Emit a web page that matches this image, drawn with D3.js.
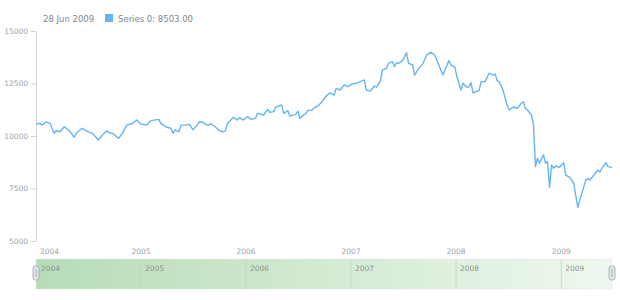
<!DOCTYPE html>
<html>
  <head>
    <script type="text/javascript" src="https://d3js.org/d3.v7.min.js"></script>
    <style>
      body { margin: 0; background: #fff; }
      text { font-family: "DejaVu Sans", Verdana, sans-serif; }
    </style>
  </head>
  <body>
  </body>
  <script>

// weekly closes, week number counted from 4 Jan 2004
var startDate = new Date(2004, 0, 4);
var endDate = new Date(2009, 5, 28);
var weeks = [0, 2, 3, 5, 7, 9, 10, 12, 14, 15, 17, 19, 20, 23, 24, 27, 28, 31, 33, 35, 37, 38, 41, 43, 45,
  47, 48, 50, 52, 55, 57, 61, 62, 65, 67, 68, 69, 71, 72, 75, 76, 78, 80, 81, 83, 85, 87, 89, 91, 93,
  94, 95, 98, 100, 101, 103, 105, 107, 109, 110, 113, 115, 116, 118, 119, 122, 123, 125, 126, 129, 130,
  131, 134, 135, 137, 139, 140, 142, 144, 146, 148, 149, 151, 153, 155, 157, 159, 161, 163, 164, 166,
  168, 169, 171, 172, 174, 175, 177, 178, 179, 180, 182, 184, 185, 187, 188, 190, 192, 194, 196, 198,
  200, 202, 205, 206, 208, 209, 211, 212, 214, 215, 216, 217, 220, 221, 223, 225, 227, 228, 229, 230,
  232, 234, 235, 237, 239, 241, 242, 243, 244, 246, 247, 248, 249, 250, 252, 253, 254, 255, 256, 257,
  258, 260, 262, 263, 265, 267, 269, 271, 273, 274, 275, 277, 279, 280, 283, 284, 286];
var values = [10570, 10600, 10520, 10670, 10600, 10130, 10250, 10200, 10440, 10370, 10200, 9940, 10130,
  10370, 10290, 10160, 10130, 9810, 10050, 10240, 10130, 10130, 9890, 10130, 10520,
  10570, 10600, 10760, 10570, 10520, 10730, 10790, 10600, 10410, 10370, 10130, 10290, 10200, 10520,
  10520, 10570, 10290, 10520, 10680, 10640, 10520, 10570, 10440, 10250, 10200,
  10230, 10580, 10890, 10760, 10870, 10760, 10920, 10790, 10840, 11080, 11000, 11270, 11130, 11160,
  11370, 11480, 11080, 11210, 10950, 11030, 11190,
  10840, 11080, 11210, 11240, 11400, 11430, 11630, 11900, 12060, 11950, 12270, 12190, 12430, 12350,
  12480, 12510, 12590, 12670, 12190, 12140,
  12380, 12320, 12630, 13140, 13220, 13460, 13540, 13300, 13490, 13460, 13590, 13970, 13460, 13380,
  12900, 13220, 13430, 13860, 13990, 13860,
  13380, 12900, 13590, 13380, 13270, 12830, 12190, 12510, 12320, 12350, 12540, 12060, 12160, 12590,
  12590, 12990, 12900, 12950, 12630, 12590,
  12150, 11440, 11240, 11380, 11320, 11560, 11630, 11320, 11240, 11000, 10560, 8540, 8940, 8700,
  9100, 8700, 8780, 7560, 8620, 8460,
  8570, 8510, 8730, 8140, 8030, 7750, 6600, 7270, 7900, 7980, 7900, 8140, 8380, 8300, 8730, 8540, 8503];
var yTicks = [5000, 7500, 10000, 12500, 15000];
var years = [2004, 2005, 2006, 2007, 2008, 2009];
var seriesName = "Series 0";

var data = weeks.map(function(w, i){
  return {date: d3.timeWeek.offset(startDate, w), value: values[i]};
});
var last = data[data.length - 1];

var svg = d3.select("body").append("svg").attr("width", 620).attr("height", 300);

var x = d3.scaleTime().domain([startDate, endDate]).range([36, 612]);
var y = d3.scaleLinear().domain([5000, 15000]).range([241, 31]);
var yearDates = years.map(function(yr){ return new Date(yr, 0, 1); });

// legend
var fmt = d3.timeFormat("%d %b %Y");
svg.append("text").attr("x", 43).attr("y", 21.5).attr("font-size", 8.5).attr("fill", "#7c868e")
  .text(fmt(last.date));
svg.append("rect").attr("x", 105).attr("y", 14).attr("width", 8).attr("height", 8).attr("fill", "#64b5f6");
svg.append("text").attr("x", 118).attr("y", 21.5).attr("font-size", 8.5).attr("fill", "#7c868e")
  .text(seriesName + ": " + d3.format(".2f")(last.value));

// y axis
var yAxis = svg.append("g").attr("transform", "translate(36,0)")
  .call(d3.axisLeft(y).tickValues(yTicks).tickSize(5).tickPadding(3).tickSizeOuter(0).tickFormat(d3.format("d")));
yAxis.select(".domain").attr("stroke", "#cfd4d8");
yAxis.selectAll(".tick line").attr("stroke", "#cfd4d8");
yAxis.selectAll(".tick text").attr("fill", "#9aa3aa").attr("font-size", 7.5)
  .style("font-family", "'DejaVu Sans', Verdana, sans-serif");

// x axis labels
var xAxis = svg.append("g").attr("transform", "translate(0,241)")
  .call(d3.axisBottom(x).tickValues(yearDates).tickSize(0).tickPadding(8).tickFormat(d3.timeFormat("%Y")));
xAxis.select(".domain").remove();
xAxis.selectAll(".tick text").attr("fill", "#9aa3aa").attr("font-size", 7.5)
  .style("font-family", "'DejaVu Sans', Verdana, sans-serif");
xAxis.selectAll(".tick").filter(function(d, i){ return i === 0; })
  .attr("transform", "translate(40,0)").select("text").attr("text-anchor", "start");

// line
svg.append("path").datum(data)
  .attr("fill", "none").attr("stroke", "#64b5f6").attr("stroke-width", 1.4).attr("stroke-linejoin", "round")
  .attr("d", d3.line().x(function(d){ return x(d.date); }).y(function(d){ return y(d.value); }));

// scroller
var sTop = 259, sH = 30;
var grad = svg.append("defs").append("linearGradient").attr("id", "sg").attr("x1", "0").attr("x2", "1");
grad.append("stop").attr("offset", "0").attr("stop-color", "#b6dcb6");
grad.append("stop").attr("offset", "1").attr("stop-color", "#eff8ef");
svg.append("rect").attr("x", 36).attr("y", sTop).attr("width", 576).attr("height", sH)
  .attr("fill", "url(#sg)").attr("stroke", "#e2e6e2").attr("stroke-width", 0.5);

var sAxis = svg.append("g").attr("transform", "translate(0," + sTop + ")")
  .call(d3.axisBottom(x).tickValues(yearDates).tickSize(sH).tickPadding(0).tickFormat(d3.timeFormat("%Y")));
sAxis.select(".domain").remove();
sAxis.selectAll(".tick line").attr("stroke", "#c5d2c5").attr("stroke-width", 0.8);
sAxis.selectAll(".tick text").attr("fill", "#8a9590").attr("font-size", 7.5).attr("text-anchor", "start")
  .attr("x", 4).attr("y", 12).attr("dy", 0)
  .style("font-family", "'DejaVu Sans', Verdana, sans-serif");
sAxis.selectAll(".tick").filter(function(d, i){ return i === 0; }).select("line").remove();
sAxis.selectAll(".tick").filter(function(d, i){ return i === 0; }).attr("transform", "translate(37,0)");

// scroller handles
[x.range()[0], x.range()[1]].forEach(function(hx){
  svg.append("rect").attr("x", hx - 3).attr("y", sTop + 7).attr("width", 6).attr("height", 14).attr("rx", 2.5)
    .attr("fill", "#e4e7ea").attr("stroke", "#9aa3aa").attr("stroke-width", 0.8);
  svg.append("line").attr("x1", hx).attr("x2", hx).attr("y1", sTop + 10).attr("y2", sTop + 18)
    .attr("stroke", "#9aa3aa").attr("stroke-width", 0.8);
});

  </script>
</html>
